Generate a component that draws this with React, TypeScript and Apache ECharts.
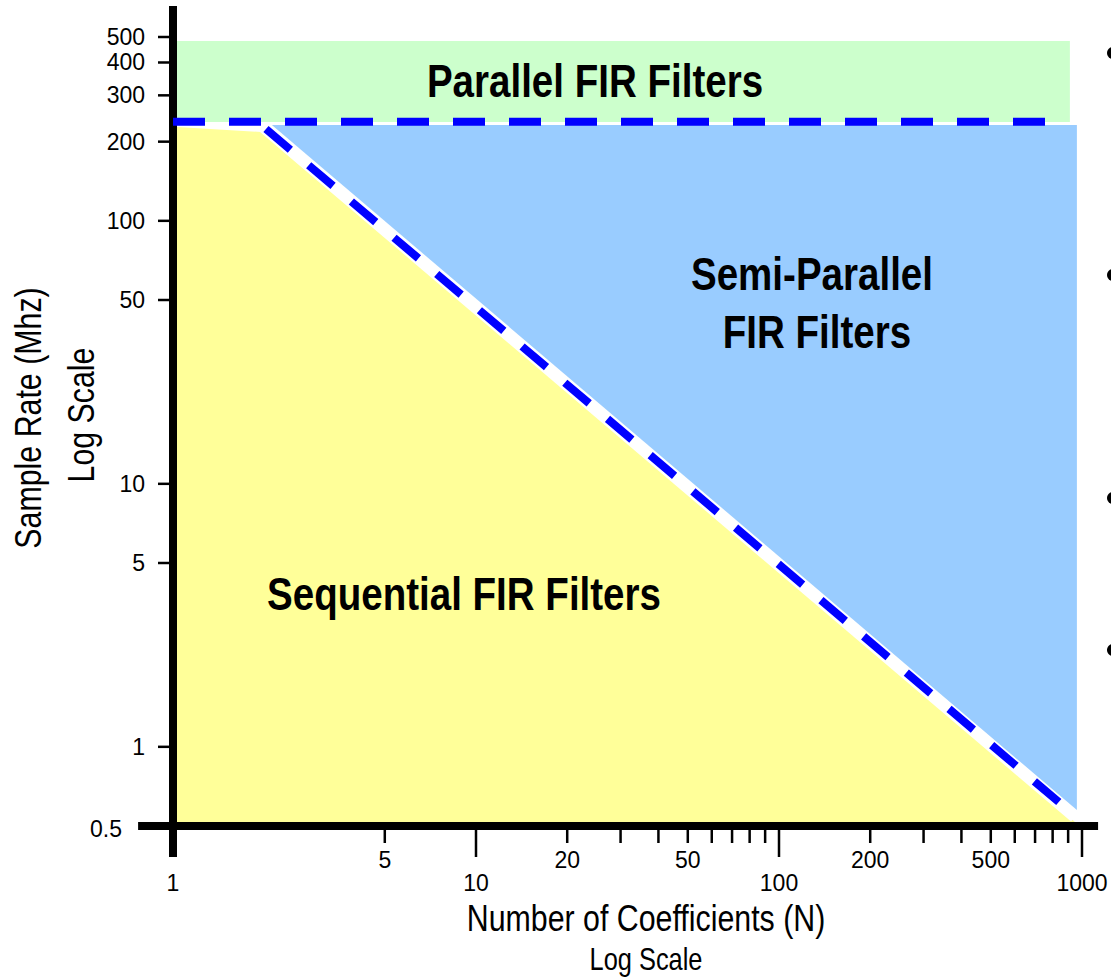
import React, { useEffect, useRef } from "react";
import * as echarts from "echarts";

// ---- data (log–log: N coefficients vs sample rate in MHz) ----
const xMinorTicks = [5, 20, 30, 40, 50, 60, 70, 80, 90, 200, 300, 400, 500, 600, 700, 800, 900];
const xMajorTicks = [10, 100, 1000];
const xLabelsUpper = [5, 20, 50, 200, 500];
const xLabelsLower = [1, 10, 100, 1000];
const yTicks = [500, 400, 300, 200, 100, 50, 10, 5, 1];
const yLabels = [500, 400, 300, 200, 100, 50, 10, 5, 1, 0.5];

const parallelRegion = [[1, 483], [912, 483], [912, 237.6], [1, 237.6]];
const semiParallelRegion = [[2.12, 231.5], [962, 231.5], [962, 0.575]];
const sequentialRegion = [[1, 0.5], [1, 228], [1.95, 217.6], [948, 0.518], [948, 0.5]];
const boundaryHorizontal = [[1, 238], [850, 238]];
const boundaryDiagonal = [[2.027, 223.5], [846, 0.611]];
const whiteBand = [[1.996, 226.6], [948, 0.541]];
const xAxisLine = [[0.767, 0.5], [1130, 0.5]];
const yAxisLine = [[1, 656], [1, 0.381]];

const SANS = '"Liberation Sans", Arial, Helvetica, sans-serif';
const NARROW = 0.82;

function polygonSeries(points: number[][], color: string) {
  return {
    type: "custom",
    silent: true,
    clip: false,
    data: points,
    encode: { x: 0, y: 1 },
    renderItem: (params: any, api: any) => {
      if (params.dataIndex !== 0) return null;
      return {
        type: "polygon",
        shape: { points: points.map((p) => api.coord(p)) },
        style: { fill: color, stroke: null },
      };
    },
  };
}

function segmentSeries(points: number[][], width: number) {
  return {
    type: "custom",
    silent: true,
    clip: false,
    data: points,
    encode: { x: 0, y: 1 },
    renderItem: (params: any, api: any) => {
      if (params.dataIndex !== 0) return null;
      const a = api.coord(points[0]);
      const b = api.coord(points[1]);
      return {
        type: "line",
        shape: { x1: a[0], y1: a[1], x2: b[0], y2: b[1] },
        style: { stroke: "#000", lineWidth: width },
      };
    },
  };
}

function xTickSeries(values: number[], len: number) {
  return {
    type: "custom",
    silent: true,
    clip: false,
    data: values.map((v) => [v, 0.5]),
    encode: { x: 0, y: 1 },
    renderItem: (params: any, api: any) => {
      const p = api.coord([api.value(0), api.value(1)]);
      return {
        type: "line",
        shape: { x1: p[0], y1: p[1] + 3, x2: p[0], y2: p[1] + len },
        style: { stroke: "#000", lineWidth: 2.5 },
      };
    },
  };
}

function xLabelSeries(values: number[], dy: number) {
  return {
    type: "custom",
    silent: true,
    clip: false,
    data: values.map((v) => [v, 0.5]),
    encode: { x: 0, y: 1 },
    renderItem: (params: any, api: any) => {
      const v = api.value(0);
      const p = api.coord([v, api.value(1)]);
      return {
        type: "text",
        x: p[0],
        y: p[1] + dy,
        style: {
          text: String(v),
          fontSize: 23,
          fontFamily: SANS,
          fill: "#000",
          align: "center",
          verticalAlign: "middle",
        },
      };
    },
  };
}

const bigLabel = (text: string, x: number, y: number) => ({
  type: "text",
  x,
  y,
  z: 50,
  scaleX: NARROW,
  style: { text, fontSize: 47, fontWeight: "bold", fontFamily: SANS, fill: "#000", align: "center", verticalAlign: "middle" },
});

const axisTitle = (text: string, x: number, y: number, size: number, rotated: boolean) => ({
  type: "text",
  x,
  y,
  z: 50,
  rotation: rotated ? Math.PI / 2 : 0,
  scaleX: NARROW,
  style: { text, fontSize: size, fontFamily: SANS, fill: "#000", align: "center", verticalAlign: "middle" },
});

const option: any = {
  animation: false,
  backgroundColor: "#ffffff",
  grid: { left: 173, right: 29, top: 37, bottom: 151, containLabel: false, outerBoundsMode: "none" },
  xAxis: { type: "log", logBase: 10, min: 1, max: 1000, show: false },
  yAxis: { type: "log", logBase: 10, min: 0.5, max: 500, show: false },
  series: [
    polygonSeries(parallelRegion, "#ccffcc"),
    polygonSeries(sequentialRegion, "#ffff99"),
    polygonSeries(semiParallelRegion, "#99ccff"),
    {
      type: "line",
      silent: true,
      data: whiteBand,
      symbol: "none",
      clip: false,
      lineStyle: { color: "#ffffff", width: 12, cap: "butt" },
    },
    {
      type: "line",
      silent: true,
      data: boundaryHorizontal,
      symbol: "none",
      clip: false,
      lineStyle: { color: "#0000ff", width: 8, type: [32, 24], cap: "butt" },
    },
    {
      type: "line",
      silent: true,
      data: boundaryDiagonal,
      symbol: "none",
      clip: false,
      lineStyle: { color: "#0000ff", width: 8, type: [32, 24], cap: "butt" },
    },
    segmentSeries(xAxisLine, 8),
    segmentSeries(yAxisLine, 8),
    xTickSeries(xMinorTicks, 17),
    xTickSeries(xMajorTicks, 31),
    xLabelSeries(xLabelsUpper, 34),
    xLabelSeries(xLabelsLower, 57),
    {
      type: "custom",
      silent: true,
      clip: false,
      data: yTicks.map((v) => [1, v]),
      encode: { x: 0, y: 1 },
      renderItem: (params: any, api: any) => {
        const p = api.coord([api.value(0), api.value(1)]);
        return {
          type: "line",
          shape: { x1: p[0] - 15, y1: p[1], x2: p[0] - 4, y2: p[1] },
          style: { stroke: "#000", lineWidth: 2.5 },
        };
      },
    },
    {
      type: "custom",
      silent: true,
      clip: false,
      data: yLabels.map((v) => [1, v]),
      encode: { x: 0, y: 1 },
      renderItem: (params: any, api: any) => {
        const v = api.value(1);
        const p = api.coord([api.value(0), v]);
        const isMin = v < 1;
        return {
          type: "text",
          x: isMin ? p[0] - 51 : p[0] - 28,
          y: p[1] + (isMin ? 3 : 0),
          style: {
            text: String(v),
            fontSize: 23,
            fontFamily: SANS,
            fill: "#000",
            align: "right",
            verticalAlign: "middle",
          },
        };
      },
    },
  ],
  graphic: [
    bigLabel("Parallel FIR Filters", 595, 81),
    bigLabel("Semi-Parallel", 812, 274),
    bigLabel("FIR Filters", 817, 332),
    bigLabel("Sequential FIR Filters", 464, 594),
    axisTitle("Number of Coefficients (N)", 646, 918, 37, false),
    axisTitle("Log Scale", 646, 959, 31, false),
    axisTitle("Sample Rate (Mhz)", 28, 418, 37, true),
    axisTitle("Log Scale", 81, 415, 37, true),
    { type: "circle", z: 50, shape: { cx: 1113, cy: 53, r: 6 }, style: { fill: "#000" } },
    { type: "circle", z: 50, shape: { cx: 1113, cy: 275, r: 6 }, style: { fill: "#000" } },
    { type: "circle", z: 50, shape: { cx: 1113, cy: 498, r: 6 }, style: { fill: "#000" } },
    { type: "circle", z: 50, shape: { cx: 1113, cy: 650, r: 6 }, style: { fill: "#000" } },
  ],
};

export default function App() {
  const ref = useRef<HTMLDivElement>(null);
  useEffect(() => {
    if (!ref.current) return;
    const chart = echarts.init(ref.current, null, { renderer: "svg" });
    chart.setOption(option);
    return () => chart.dispose();
  }, []);
  return (
    <div
      ref={ref}
      style={{ position: "absolute", left: 0, top: 0, width: 1111, height: 977, background: "#ffffff" }}
    />
  );
}
